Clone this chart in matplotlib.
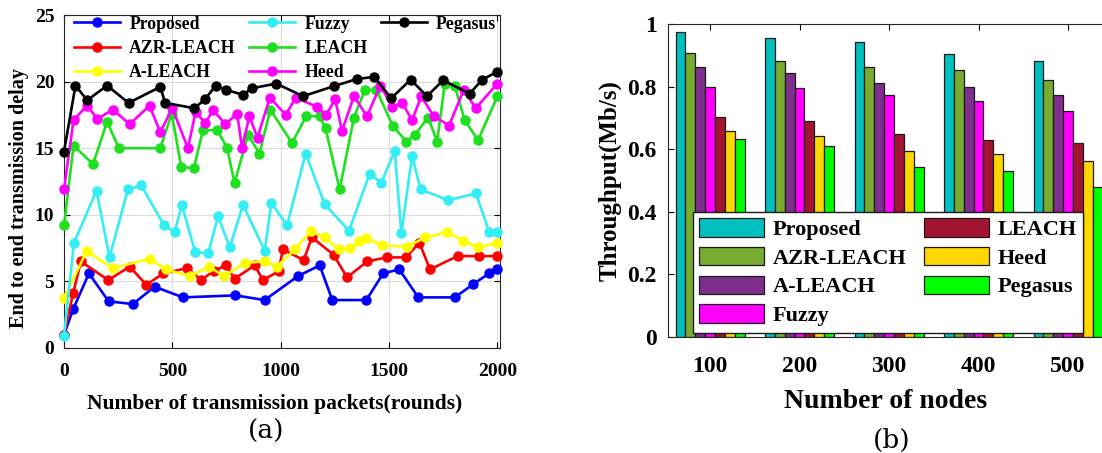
import numpy as np
import matplotlib
matplotlib.use("Agg")
import matplotlib.pyplot as plt
from matplotlib.lines import Line2D

plt.rcParams['font.family'] = ['Liberation Serif', 'DejaVu Serif']
plt.rcParams['font.weight'] = 'bold'

## (a) end to end delay data ##
pro_x = [0, 42, 115, 206, 318, 418, 549, 791, 926, 1080, 1180, 1238, 1395, 1473, 1547, 1635, 1804, 1889, 1962, 2000]
pro_y = [1.0, 2.9, 5.6, 3.5, 3.3, 4.6, 3.8, 3.95, 3.6, 5.4, 6.2, 3.6, 3.6, 5.6, 5.9, 3.8, 3.8, 4.8, 5.6, 5.9]

azr_x = [0, 42, 78, 204, 303, 380, 459, 569, 633, 692, 749, 787, 880, 918, 990, 1010, 1106, 1144, 1244, 1306,
         1399, 1489, 1577, 1640, 1689, 1816, 1913, 2000]
azr_y = [1.0, 4.1, 6.5, 5.1, 6.1, 4.75, 5.6, 6.0, 5.1, 5.8, 6.2, 5.2, 6.2, 5.1, 5.75, 7.4, 6.6, 8.3, 7.0, 5.3,
         6.5, 6.8, 6.8, 7.9, 5.9, 6.9, 6.9, 6.9]

ale_x = [0, 104, 227, 397, 470, 580, 668, 739, 837, 926, 983, 1064, 1141, 1203, 1269, 1321, 1361, 1395, 1468,
         1584, 1667, 1768, 1841, 1911, 2000]
ale_y = [3.75, 7.25, 6.0, 6.7, 5.9, 5.4, 6.1, 5.4, 6.4, 6.5, 6.1, 7.4, 8.75, 8.3, 7.4, 7.5, 8.0, 8.25, 7.7,
         7.6, 8.3, 8.7, 8.05, 7.55, 7.9]

fuz_x = [0, 46, 150, 210, 295, 357, 462, 510, 544, 606, 665, 711, 765, 826, 926, 957, 1029, 1115, 1203, 1315,
         1411, 1464, 1526, 1557, 1606, 1646, 1773, 1901, 1962, 2000]
fuz_y = [0.9, 7.9, 11.8, 6.8, 11.9, 12.2, 9.2, 8.7, 10.7, 7.2, 7.1, 9.9, 7.55, 10.75, 7.3, 10.9, 9.2, 14.6, 10.8, 8.8,
         13.1, 12.4, 14.8, 8.6, 14.4, 11.9, 11.1, 11.6, 8.7, 8.7]

lea_x = [0, 44, 134, 199, 253, 444, 497, 541, 599, 641, 707, 752, 787, 849, 902, 952, 1052, 1118, 1180, 1207,
         1272, 1338, 1388, 1441, 1518, 1580, 1619, 1680, 1722, 1757, 1803, 1849, 1911, 2000]
lea_y = [9.2, 15.2, 13.8, 17.0, 15.0, 15.0, 17.6, 13.6, 13.5, 16.35, 16.35, 15.05, 12.4, 16.0, 14.6, 17.9, 15.4, 17.4, 17.4, 16.5,
         11.9, 17.3, 19.35, 19.4, 16.65, 15.5, 16.0, 17.3, 15.5, 19.85, 19.7, 17.1, 15.6, 18.9]

hee_x = [0, 44, 106, 154, 226, 303, 395, 444, 500, 572, 607, 652, 688, 745, 799, 822, 855, 893, 950, 1023,
         1070, 1168, 1211, 1251, 1283, 1338, 1398, 1460, 1515, 1561, 1606, 1649, 1706, 1777, 1845, 1900, 2000]
hee_y = [11.9, 17.1, 18.2, 17.2, 17.9, 16.8, 18.2, 16.2, 18.0, 15.0, 17.7, 16.9, 17.85, 16.8, 17.6, 15.0, 17.4, 15.8, 18.8, 17.5,
         18.8, 18.1, 17.5, 18.7, 16.3, 18.9, 17.4, 19.7, 18.1, 18.4, 17.1, 18.9, 17.4, 16.7, 19.4, 18.0, 19.85]

peg_x = [0, 53, 107, 199, 298, 444, 467, 602, 652, 700, 746, 826, 867, 980, 1103, 1244, 1353, 1431, 1510, 1600,
         1675, 1749, 1872, 1931, 2000]
peg_y = [14.75, 19.7, 18.6, 19.7, 18.4, 19.6, 18.4, 18.0, 18.7, 19.7, 19.4, 19.0, 19.5, 19.85, 18.9, 19.65, 20.2, 20.35, 18.75, 20.15,
         18.9, 20.1, 19.1, 20.15, 20.75]

## (b) throughput data ##
nodes = ['100', '200', '300', '400', '500']
thr_names = ['Proposed', 'AZR-LEACH', 'A-LEACH', 'Fuzzy', 'LEACH', 'Heed', 'Pegasus']
thr_proposed = [0.975, 0.956, 0.943, 0.904, 0.883]
thr_azr = [0.906, 0.883, 0.862, 0.853, 0.821]
thr_aleach = [0.864, 0.842, 0.81, 0.80, 0.773]
thr_fuzzy = [0.80, 0.795, 0.773, 0.755, 0.723]
thr_leach = [0.704, 0.691, 0.65, 0.629, 0.619]
thr_heed = [0.659, 0.642, 0.594, 0.584, 0.562]
thr_pegasus = [0.632, 0.61, 0.542, 0.53, 0.478]
bar_colors = ['#00BFBF', '#77AC30', '#7E2F8E', '#FF00FF', '#A2142F', '#FFD700', '#00FF00']

fig = plt.figure(figsize=(11.02, 4.53), dpi=100)

## left plot ##
ax1 = fig.add_axes([64 / 1102, 105 / 453, 436 / 1102, 333 / 453])
series = [
    (pro_x, pro_y, 'Proposed', '#0000FF'),
    (azr_x, azr_y, 'AZR-LEACH', '#FF0000'),
    (ale_x, ale_y, 'A-LEACH', '#FFFF00'),
    (fuz_x, fuz_y, 'Fuzzy', '#33EEF5'),
    (lea_x, lea_y, 'LEACH', '#1EE01E'),
    (hee_x, hee_y, 'Heed', '#FF00FF'),
    (peg_x, peg_y, 'Pegasus', '#000000'),
]
handles = {}
for xs, ys, name, col in series:
    h, = ax1.plot(xs, ys, '-o', color=col, lw=1.9, ms=6.5, label=name, clip_on=False, zorder=3)
    handles[name] = h

ax1.set_xlim(0, 2012)
ax1.set_ylim(0, 25)
ax1.set_xticks([0, 500, 1000, 1500, 2000])
ax1.set_yticks([0, 5, 10, 15, 20, 25])
ax1.grid(True, color='#DCDCDC', lw=0.8)
ax1.set_axisbelow(True)
ax1.tick_params(direction='in', top=True, right=True, labelsize=14, length=4, pad=7)
ax1.tick_params(axis='x', pad=11)
for lab in ax1.get_xticklabels() + ax1.get_yticklabels():
    lab.set_fontweight('bold')
for sp in ax1.spines.values():
    sp.set_color('#262626')
ax1.set_xlabel('Number of transmission packets(rounds)', fontsize=15.5, fontweight='bold')
ax1.xaxis.set_label_coords(0.483, -0.138)
ax1.set_ylabel('End to end transmission delay', fontsize=14.5, fontweight='bold')
ax1.yaxis.set_label_coords(-0.08, 0.45)

blank = Line2D([], [], linestyle='none')
order = ['Proposed', 'AZR-LEACH', 'A-LEACH', 'Fuzzy', 'LEACH', 'Heed', 'Pegasus']
leg1 = ax1.legend([handles[n] for n in order] + [blank, blank], order + ['', ''], ncol=3, frameon=False,
                  loc='upper left', bbox_to_anchor=(0.003, 1.025), handlelength=2.6,
                  handletextpad=0.5, columnspacing=0.75, labelspacing=0.42, borderpad=0.0,
                  prop={'weight': 'bold', 'size': 12.8})

## right plot ##
ax2 = fig.add_axes([668 / 1102, 116 / 453, 447.5 / 1102, 313 / 453])
thr_all = [thr_proposed, thr_azr, thr_aleach, thr_fuzzy, thr_leach, thr_heed, thr_pegasus]
pos = np.arange(1, len(nodes) + 1)
bw = 0.11
for i, vals in enumerate(thr_all):
    ax2.bar(pos + (i - 3) * bw, vals, bw, color=bar_colors[i], edgecolor='#1A1A1A', lw=0.9,
            label=thr_names[i], zorder=2)

ax2.set_xlim(0.53, 5.53)
ax2.set_ylim(0, 1)
ax2.set_xticks(pos)
ax2.set_xticklabels(nodes)
ax2.set_yticks([0, 0.2, 0.4, 0.6, 0.8, 1])
ax2.set_yticklabels(['0', '0.2', '0.4', '0.6', '0.8', '1'])
ax2.tick_params(direction='in', top=True, right=True, labelsize=17, length=4, pad=8)
ax2.tick_params(axis='x', pad=14)
for lab in ax2.get_xticklabels() + ax2.get_yticklabels():
    lab.set_fontweight('bold')
for sp in ax2.spines.values():
    sp.set_color('#262626')
ax2.set_xlabel('Number of nodes', fontsize=20, fontweight='bold')
ax2.xaxis.set_label_coords(0.487, -0.165)
ax2.set_ylabel('Throughput(Mb/s)', fontsize=18, fontweight='bold', labelpad=4)

leg2 = ax2.legend(ncol=2, loc='upper left', bbox_to_anchor=(0.055, 0.40), fancybox=False,
                  edgecolor='#1A1A1A', framealpha=1, handlelength=2.9, handleheight=0.9,
                  handletextpad=0.4, columnspacing=0.8, labelspacing=0.3, borderpad=0.3,
                  borderaxespad=0, prop={'weight': 'bold', 'size': 16})
leg2.get_frame().set_linewidth(1.0)
leg2.set_zorder(5)

## sub captions ##
fig.text(266 / 1102, 1 - 431 / 453, '(a)', fontsize=19, family='DejaVu Serif', fontweight='normal',
         ha='center', va='center')
fig.text(892 / 1102, 1 - 440 / 453, '(b)', fontsize=19, family='DejaVu Serif', fontweight='normal',
         ha='center', va='center')

fig.savefig('out.png', dpi=100)
